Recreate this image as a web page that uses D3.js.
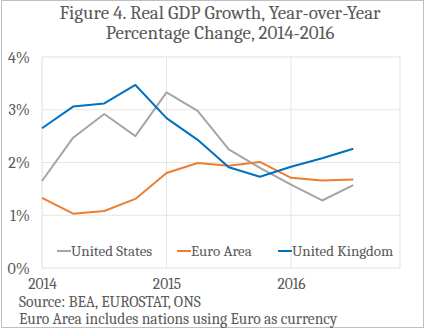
<!DOCTYPE html>
<html>
<head>
<meta charset="utf-8">
<style>
  body { margin: 0; background: #fff; }
  svg { display: block; }
</style>
</head>
<body>
<svg id="chart"></svg>
<script src="https://d3js.org/d3.v7.min.js"></script>
<script>
  // quarterly index, 0 = 2014 Q1
  var quarters = [0, 1, 2, 3, 4, 5, 6, 7, 8, 9, 10];
  var usValues = [1.65, 2.47, 2.92, 2.50, 3.33, 2.98, 2.25, 1.90, 1.58, 1.28, 1.57];
  var euroValues = [1.33, 1.03, 1.08, 1.31, 1.80, 1.99, 1.94, 2.01, 1.71, 1.66, 1.68];
  var ukValues = [2.65, 3.06, 3.12, 3.47, 2.84, 2.43, 1.91, 1.73, 1.92, 2.08, 2.26];
  var seriesNames = ["United States", "Euro Area", "United Kingdom"];
  var yearTicks = [2014, 2015, 2016];
  var pctTicks = [0, 1, 2, 3, 4];
  var titleLines = ["Figure 4. Real GDP Growth, Year-over-Year", "Percentage Change, 2014-2016"];
  var notes = ["Source: BEA, EUROSTAT, ONS", "Euro Area includes nations using Euro as currency"];

  var width = 425,
    height = 330;
  var serif = "Cambria";
  var textColor = "#595959";

  var svg = d3.select("#chart").attr("width", width).attr("height", height);

  // outer frame
  svg.append("rect")
    .attr("x", 1.5).attr("y", 0.5)
    .attr("width", width - 3).attr("height", height - 3)
    .attr("fill", "none")
    .attr("stroke", "#bfbfbf");

  var x = d3.scaleLinear().domain([0, 11.5]).range([42, 400]);
  var y = d3.scaleLinear().domain([0, 4]).range([268, 57]);

  // title
  svg.append("g").selectAll("text")
    .data(titleLines)
    .enter()
    .append("text")
    .attr("x", 220)
    .attr("y", function (d, i) { return 19 + i * 20; })
    .attr("text-anchor", "middle")
    .style("font-family", serif)
    .style("font-size", "19px")
    .style("fill", textColor)
    .text(function (d) { return d; });

  // gridlines
  svg.append("g").selectAll("line")
    .data([1, 2, 3])
    .enter()
    .append("line")
    .attr("x1", x(0)).attr("x2", x(11.5))
    .attr("y1", function (d) { return y(d); })
    .attr("y2", function (d) { return y(d); })
    .attr("stroke", "#e6e6e6");

  svg.append("g").selectAll("line")
    .data([4, 8])
    .enter()
    .append("line")
    .attr("x1", function (d) { return x(d); })
    .attr("x2", function (d) { return x(d); })
    .attr("y1", y(0)).attr("y2", y(4))
    .attr("stroke", "#e6e6e6");

  // plot box
  svg.append("rect")
    .attr("x", x(0)).attr("y", y(4))
    .attr("width", x(11.5) - x(0)).attr("height", y(0) - y(4))
    .attr("fill", "none")
    .attr("stroke", "#e0e0e0");

  // y axis labels
  var yAxis = d3.axisLeft(y).tickValues(pctTicks).tickSize(0).tickPadding(12)
    .tickFormat(function (d) { return d + "%"; });
  var gy = svg.append("g").attr("transform", "translate(" + x(0) + ",0)").call(yAxis);
  gy.select(".domain").remove();
  gy.selectAll("text")
    .style("font-family", serif).style("font-size", "16px").style("fill", textColor);

  // x axis labels
  var xAxis = d3.axisBottom(x).tickValues([0, 4, 8]).tickSize(0).tickPadding(10)
    .tickFormat(function (d, i) { return yearTicks[i]; });
  var gx = svg.append("g").attr("transform", "translate(0," + y(0) + ")").call(xAxis);
  gx.select(".domain").remove();
  gx.selectAll("text")
    .style("font-family", serif).style("font-size", "15.5px").style("fill", textColor);

  // series
  var series = [
    { name: seriesNames[0], values: usValues, color: "#a5a5a5" },
    { name: seriesNames[1], values: euroValues, color: "#ed7d31" },
    { name: seriesNames[2], values: ukValues, color: "#0070c0" }
  ];

  var line = d3.line()
    .x(function (d, i) { return x(quarters[i]); })
    .y(function (d) { return y(d); });

  svg.append("g").selectAll("path")
    .data(series)
    .enter()
    .append("path")
    .attr("d", function (d) { return line(d.values); })
    .attr("fill", "none")
    .attr("stroke", function (d) { return d.color; })
    .attr("stroke-width", 2)
    .attr("stroke-linejoin", "round");

  // legend
  var legendX = [57, 177, 278];
  var legend = svg.append("g").selectAll("g")
    .data(series)
    .enter()
    .append("g")
    .attr("transform", function (d, i) { return "translate(" + legendX[i] + ",251)"; });
  legend.append("line")
    .attr("x1", 0).attr("x2", 14)
    .attr("stroke", function (d) { return d.color; })
    .attr("stroke-width", 2);
  legend.append("text")
    .attr("x", 14)
    .attr("y", 5)
    .style("font-family", serif)
    .style("font-size", "15px")
    .style("fill", textColor)
    .text(function (d) { return d.name; });

  // notes
  svg.append("g").selectAll("text")
    .data(notes)
    .enter()
    .append("text")
    .attr("x", 19)
    .attr("y", function (d, i) { return 306.5 + i * 17; })
    .style("font-family", serif)
    .style("font-size", "15.5px")
    .style("fill", textColor)
    .text(function (d) { return d; });
</script>
</body>
</html>
